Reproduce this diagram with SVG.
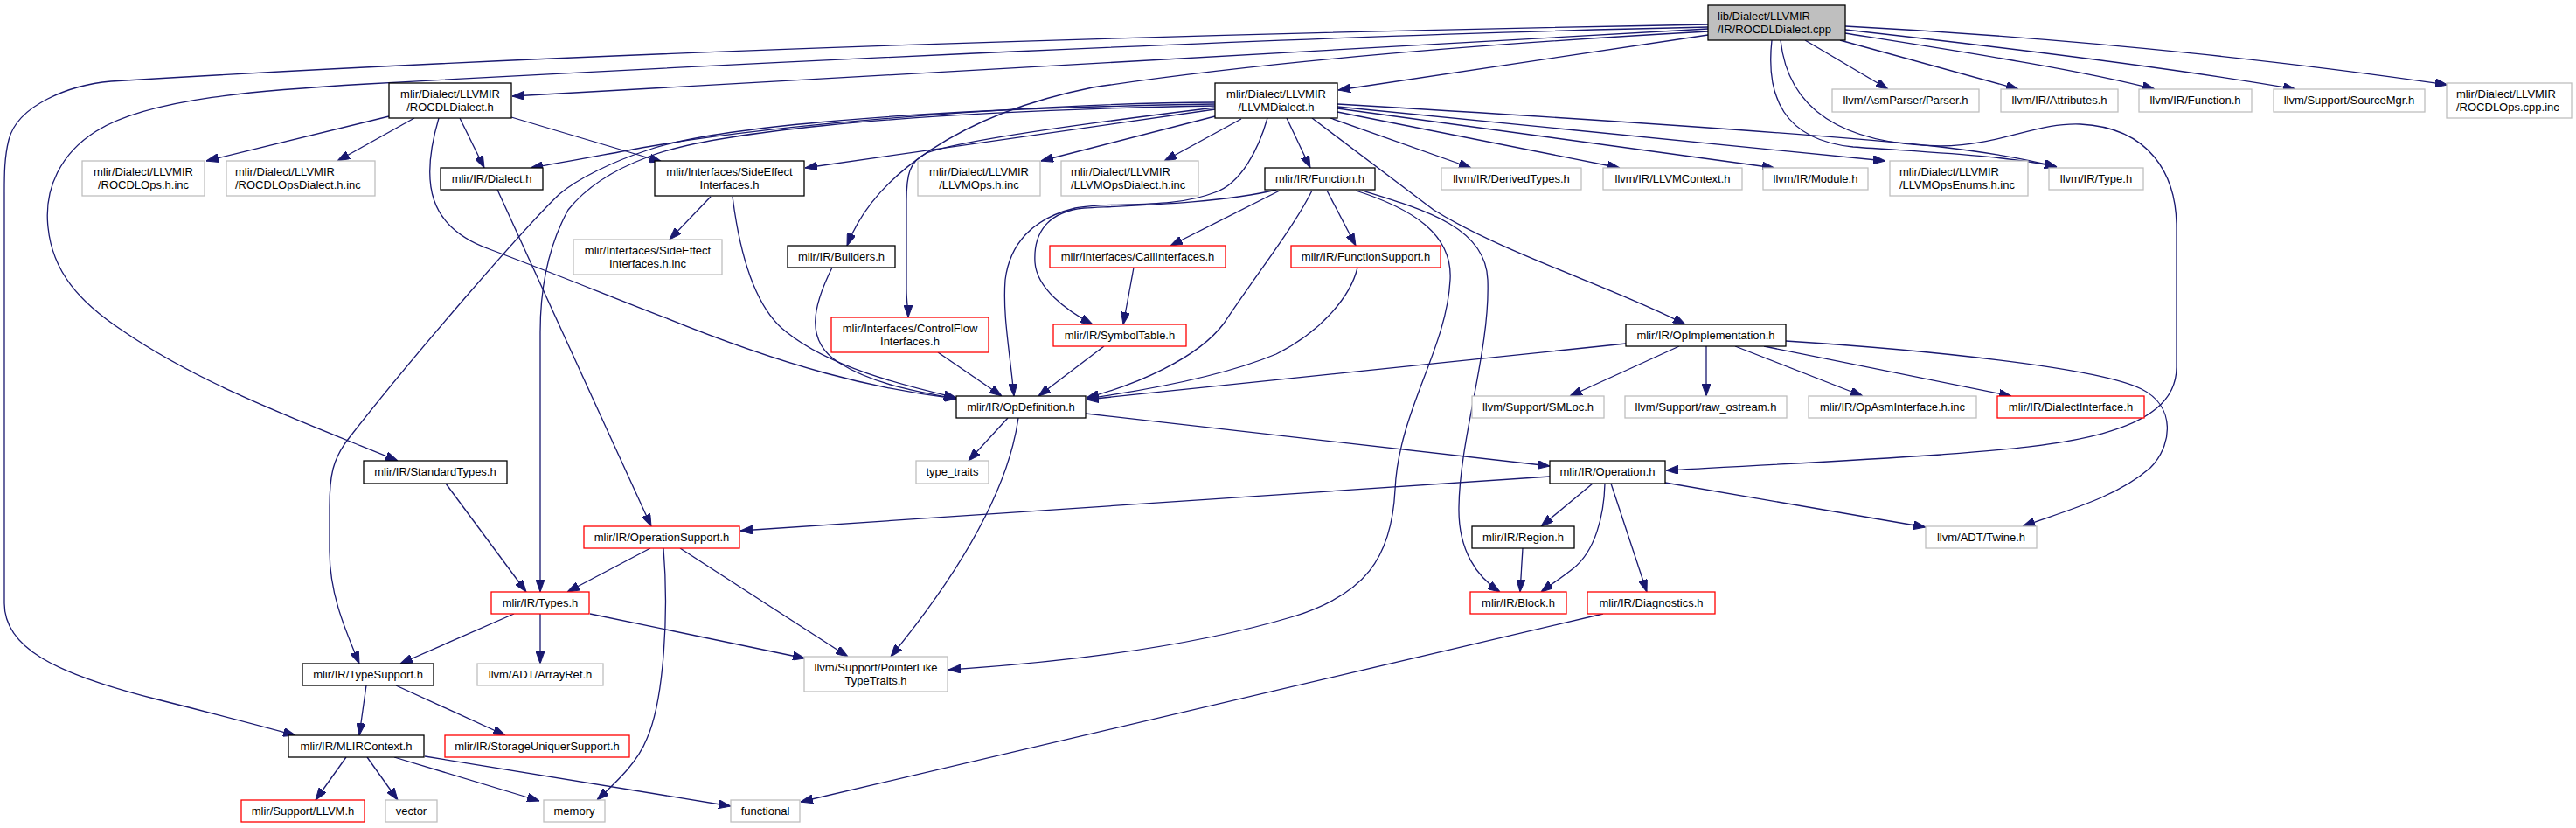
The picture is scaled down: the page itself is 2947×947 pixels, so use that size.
<svg xmlns="http://www.w3.org/2000/svg" width="2947" height="947" viewBox="0 0 2947 947">
<defs>
<style>
.n rect{fill:#fff;stroke-width:1.3}
.blk rect{stroke:#000}
.gry rect{stroke:#bfbfbf}
.red rect{stroke:#ff0000}
.root rect{fill:#bfbfbf;stroke:#000}
text{font-family:"Liberation Sans",Arial,Helvetica,sans-serif;font-size:13px;fill:#000;text-anchor:middle}
text.l{text-anchor:start}
.e path{fill:none;stroke:#191970;stroke-width:1.3;marker-end:url(#arr)}
</style>
<marker id="arr" viewBox="0 0 14 10" refX="14" refY="5" markerWidth="14" markerHeight="10" markerUnits="userSpaceOnUse" orient="auto">
<path d="M0,0 L14,5 L0,10 Z" fill="#191970" stroke="#191970" stroke-width="1"/>
</marker>
</defs>
<rect width="2947" height="947" fill="#fff"/>
<g id="edges" class="e">
<path d="M1954,33 L586,110"/>
<path d="M1954,40 L1531,103"/>
<path d="M1954,31 C1500,40 800,75 420,96 C300,103 170,112 110,150 C70,175 50,215 55,260 C60,310 90,345 140,378 C230,440 340,480 455,527"/>
<path d="M1954,28 C1400,38 700,58 127,93 C80,97 20,120 10,160 C5,180 5,200 5,220 L5,690 C5,740 60,770 180,800 C240,815 290,828 338,841"/>
<path d="M1954,36 C1700,50 1450,70 1250,100 C1100,130 1000,200 969,281"/>
<path d="M2065,46 L2160,102"/>
<path d="M2105,46 L2309,102"/>
<path d="M2111,38 C2250,60 2380,80 2465,102"/>
<path d="M2111,34 C2300,55 2500,80 2626,102"/>
<path d="M2111,30 C2400,45 2650,75 2800,97"/>
<path d="M2027,46 C2020,110 2040,160 2120,168 C2200,174 2300,178 2353,191"/>
<path d="M2037,46 C2045,120 2100,165 2220,167 C2290,166 2330,140 2380,142 C2460,146 2490,200 2490,260 L2490,420 C2490,500 2350,510 2220,520 C2100,528 1980,534 1906,538"/>
<path d="M445,133 L236,184"/>
<path d="M474,135 L386,184"/>
<path d="M526,135 L554,192"/>
<path d="M585,134 L757,185"/>
<path d="M502,135 C480,210 490,260 560,285 C640,315 700,340 760,363 C900,420 1000,445 1094,456"/>
<path d="M1390,117 C1200,118 900,140 740,168 C690,177 650,185 607,192"/>
<path d="M1390,119 C1000,125 800,150 740,172 C700,185 660,205 640,222 C600,260 470,410 400,500 C380,525 377,545 377,580 L377,630 C377,680 395,720 411,759"/>
<path d="M1390,121 C1000,128 800,155 740,180 C700,195 670,215 650,240 C628,280 618,330 618,380 L618,677"/>
<path d="M1390,125 L921,192"/>
<path d="M1390,123 C1250,140 1100,160 1060,175 C1040,185 1037,200 1037,230 L1037,330 C1037,345 1039,355 1039,363"/>
<path d="M1390,133 L1191,184"/>
<path d="M1420,136 L1332,184"/>
<path d="M1472,135 L1499,192"/>
<path d="M1450,135 C1440,170 1420,210 1390,220 C1340,240 1270,230 1230,238 C1180,250 1155,280 1150,320 C1147,360 1155,400 1160,453"/>
<path d="M1522,135 L1683,192"/>
<path d="M1530,128 L1853,192"/>
<path d="M1530,124 L2030,192"/>
<path d="M1530,122 L2157,184"/>
<path d="M1530,119 C1800,135 2100,155 2220,168 C2280,175 2320,182 2353,191"/>
<path d="M1501,135 C1560,180 1600,210 1640,240 C1720,290 1850,330 1928,371"/>
<path d="M569,217 L745,602"/>
<path d="M813,225 L766,274"/>
<path d="M838,225 C845,280 860,350 900,380 C950,420 1030,440 1094,455"/>
<path d="M952,306 C930,350 920,390 960,415 C1000,440 1050,448 1094,456"/>
<path d="M1464,218 L1339,281"/>
<path d="M1518,218 L1551,281"/>
<path d="M1501,218 C1480,260 1440,310 1400,370 C1370,410 1300,440 1243,455"/>
<path d="M1460,217 C1400,232 1300,235 1240,238 C1200,242 1182,265 1184,300 C1186,330 1220,355 1250,371"/>
<path d="M1558,218 C1630,240 1700,260 1702,320 C1705,400 1670,500 1669,580 C1668,630 1690,660 1716,677"/>
<path d="M1551,218 C1620,240 1662,270 1659,320 C1655,400 1600,470 1596,560 C1592,640 1560,680 1480,705 C1380,735 1250,755 1085,766"/>
<path d="M1297,306 L1285,371"/>
<path d="M1553,306 C1545,340 1510,380 1460,405 C1400,430 1320,445 1243,456"/>
<path d="M1073,403 L1146,453"/>
<path d="M1263,396 L1188,453"/>
<path d="M1860,393 L1243,457"/>
<path d="M1921,396 L1796,453"/>
<path d="M1952,396 L1952,453"/>
<path d="M1985,396 L2131,453"/>
<path d="M2018,396 L2301,453"/>
<path d="M2043,390 C2200,400 2400,420 2450,445 C2490,465 2485,510 2460,535 C2420,570 2360,585 2314,602"/>
<path d="M1153,478 L1108,527"/>
<path d="M1165,478 C1155,550 1110,640 1019,751"/>
<path d="M1242,473 L1773,533"/>
<path d="M510,553 L602,677"/>
<path d="M1773,545 L847,607"/>
<path d="M1822,553 L1763,602"/>
<path d="M1836,553 C1835,590 1825,630 1800,650 C1785,662 1775,668 1763,677"/>
<path d="M1843,553 L1884,677"/>
<path d="M1905,552 L2203,603"/>
<path d="M1742,627 L1739,677"/>
<path d="M744,627 L649,677"/>
<path d="M759,627 C765,700 760,800 740,845 C730,870 710,890 683,915"/>
<path d="M778,627 L970,751"/>
<path d="M588,702 L458,759"/>
<path d="M618,702 L618,759"/>
<path d="M675,702 L921,753"/>
<path d="M419,784 L411,841"/>
<path d="M453,784 L578,841"/>
<path d="M396,866 L361,915"/>
<path d="M420,866 L455,915"/>
<path d="M451,866 L617,916"/>
<path d="M486,865 L836,922"/>
<path d="M1834,702 L916,917"/>
</g>
<g id="nodes">
<g id="n-root" class="n root"><rect x="1954" y="6" width="157" height="40"/><text class="l" x="1965" y="23">lib/Dialect/LLVMIR</text><text class="l" x="1965" y="37.5">/IR/ROCDLDialect.cpp</text></g>
<g id="n-rocdl-h" class="n blk"><rect x="445" y="95" width="140" height="40"/><text x="515" y="112">mlir/Dialect/LLVMIR</text><text x="515" y="126.5">/ROCDLDialect.h</text></g>
<g id="n-llvmdialect-h" class="n blk"><rect x="1390" y="95" width="140" height="40"/><text x="1460" y="112">mlir/Dialect/LLVMIR</text><text x="1460" y="126.5">/LLVMDialect.h</text></g>
<g id="n-parser" class="n gry"><rect x="2096" y="102" width="168" height="26"/><text x="2180" y="119">llvm/AsmParser/Parser.h</text></g>
<g id="n-attributes" class="n gry"><rect x="2289" y="102" width="134" height="26"/><text x="2356" y="119">llvm/IR/Attributes.h</text></g>
<g id="n-llvm-function" class="n gry"><rect x="2447" y="102" width="129" height="26"/><text x="2511.5" y="119">llvm/IR/Function.h</text></g>
<g id="n-sourcemgr" class="n gry"><rect x="2601" y="102" width="173" height="26"/><text x="2687.5" y="119">llvm/Support/SourceMgr.h</text></g>
<g id="n-rocdlops-cpp" class="n gry"><rect x="2799" y="95" width="143" height="40"/><text class="l" x="2810" y="112">mlir/Dialect/LLVMIR</text><text class="l" x="2810" y="126.5">/ROCDLOps.cpp.inc</text></g>
<g id="n-rocdlops-inc" class="n gry"><rect x="94" y="184" width="140" height="40"/><text x="164" y="201">mlir/Dialect/LLVMIR</text><text x="164" y="215.5">/ROCDLOps.h.inc</text></g>
<g id="n-rocdlopsdialect-inc" class="n gry"><rect x="259" y="184" width="170" height="40"/><text class="l" x="269" y="201">mlir/Dialect/LLVMIR</text><text class="l" x="269" y="215.5">/ROCDLOpsDialect.h.inc</text></g>
<g id="n-dialect" class="n blk"><rect x="504" y="192" width="117" height="25"/><text x="562.5" y="208.5">mlir/IR/Dialect.h</text></g>
<g id="n-sideeffect" class="n blk"><rect x="749" y="184" width="171" height="40"/><text x="834.5" y="201">mlir/Interfaces/SideEffect</text><text x="834.5" y="215.5">Interfaces.h</text></g>
<g id="n-llvmops-inc" class="n gry"><rect x="1050" y="184" width="140" height="40"/><text x="1120" y="201">mlir/Dialect/LLVMIR</text><text x="1120" y="215.5">/LLVMOps.h.inc</text></g>
<g id="n-llvmopsdialect-inc" class="n gry"><rect x="1214" y="184" width="157" height="40"/><text class="l" x="1225" y="201">mlir/Dialect/LLVMIR</text><text class="l" x="1225" y="215.5">/LLVMOpsDialect.h.inc</text></g>
<g id="n-function" class="n blk"><rect x="1447" y="192" width="126" height="25"/><text x="1510" y="208.5">mlir/IR/Function.h</text></g>
<g id="n-derivedtypes" class="n gry"><rect x="1649" y="192" width="160" height="25"/><text x="1729" y="208.5">llvm/IR/DerivedTypes.h</text></g>
<g id="n-llvmcontext" class="n gry"><rect x="1834" y="192" width="159" height="25"/><text x="1913.5" y="208.5">llvm/IR/LLVMContext.h</text></g>
<g id="n-module" class="n gry"><rect x="2017" y="192" width="120" height="25"/><text x="2077" y="208.5">llvm/IR/Module.h</text></g>
<g id="n-llvmopsenums" class="n gry"><rect x="2162" y="184" width="158" height="40"/><text class="l" x="2173" y="201">mlir/Dialect/LLVMIR</text><text class="l" x="2173" y="215.5">/LLVMOpsEnums.h.inc</text></g>
<g id="n-type" class="n gry"><rect x="2344" y="192" width="108" height="25"/><text x="2398" y="208.5">llvm/IR/Type.h</text></g>
<g id="n-sideeffect-inc" class="n gry"><rect x="656" y="274" width="170" height="40"/><text x="741" y="291">mlir/Interfaces/SideEffect</text><text x="741" y="305.5">Interfaces.h.inc</text></g>
<g id="n-builders" class="n blk"><rect x="901" y="281" width="123" height="25"/><text x="962.5" y="297.5">mlir/IR/Builders.h</text></g>
<g id="n-callinterfaces" class="n red"><rect x="1201" y="281" width="201" height="25"/><text x="1301.5" y="297.5">mlir/Interfaces/CallInterfaces.h</text></g>
<g id="n-functionsupport" class="n red"><rect x="1477" y="281" width="171" height="25"/><text x="1562.5" y="297.5">mlir/IR/FunctionSupport.h</text></g>
<g id="n-controlflow" class="n red"><rect x="951" y="363" width="180" height="40"/><text x="1041" y="380">mlir/Interfaces/ControlFlow</text><text x="1041" y="394.5">Interfaces.h</text></g>
<g id="n-symboltable" class="n red"><rect x="1205" y="371" width="152" height="25"/><text x="1281" y="387.5">mlir/IR/SymbolTable.h</text></g>
<g id="n-opimplementation" class="n blk"><rect x="1860" y="371" width="183" height="25"/><text x="1951.5" y="387.5">mlir/IR/OpImplementation.h</text></g>
<g id="n-opdefinition" class="n blk"><rect x="1094" y="453" width="148" height="25"/><text x="1168" y="469.5">mlir/IR/OpDefinition.h</text></g>
<g id="n-smloc" class="n gry"><rect x="1684" y="453" width="151" height="25"/><text x="1759.5" y="469.5">llvm/Support/SMLoc.h</text></g>
<g id="n-rawostream" class="n gry"><rect x="1859" y="453" width="185" height="25"/><text x="1951.5" y="469.5">llvm/Support/raw_ostream.h</text></g>
<g id="n-opasminterface" class="n gry"><rect x="2069" y="453" width="192" height="25"/><text x="2165" y="469.5">mlir/IR/OpAsmInterface.h.inc</text></g>
<g id="n-dialectinterface" class="n red"><rect x="2285" y="453" width="168" height="25"/><text x="2369" y="469.5">mlir/IR/DialectInterface.h</text></g>
<g id="n-standardtypes" class="n blk"><rect x="416" y="527" width="164" height="26"/><text x="498" y="544">mlir/IR/StandardTypes.h</text></g>
<g id="n-typetraits" class="n gry"><rect x="1048" y="527" width="83" height="26"/><text x="1089.5" y="544">type_traits</text></g>
<g id="n-operation" class="n blk"><rect x="1773" y="527" width="132" height="26"/><text x="1839" y="544">mlir/IR/Operation.h</text></g>
<g id="n-operationsupport" class="n red"><rect x="668" y="602" width="178" height="25"/><text x="757" y="618.5">mlir/IR/OperationSupport.h</text></g>
<g id="n-region" class="n blk"><rect x="1684" y="602" width="117" height="25"/><text x="1742.5" y="618.5">mlir/IR/Region.h</text></g>
<g id="n-twine" class="n gry"><rect x="2203" y="602" width="127" height="25"/><text x="2266.5" y="618.5">llvm/ADT/Twine.h</text></g>
<g id="n-types" class="n red"><rect x="562" y="677" width="112" height="25"/><text x="618" y="693.5">mlir/IR/Types.h</text></g>
<g id="n-block" class="n red"><rect x="1682" y="677" width="110" height="25"/><text x="1737" y="693.5">mlir/IR/Block.h</text></g>
<g id="n-diagnostics" class="n red"><rect x="1816" y="677" width="146" height="25"/><text x="1889" y="693.5">mlir/IR/Diagnostics.h</text></g>
<g id="n-typesupport" class="n blk"><rect x="346" y="759" width="150" height="25"/><text x="421" y="775.5">mlir/IR/TypeSupport.h</text></g>
<g id="n-arrayref" class="n gry"><rect x="546" y="759" width="144" height="25"/><text x="618" y="775.5">llvm/ADT/ArrayRef.h</text></g>
<g id="n-pointerlike" class="n gry"><rect x="920" y="751" width="164" height="40"/><text x="1002" y="768">llvm/Support/PointerLike</text><text x="1002" y="782.5">TypeTraits.h</text></g>
<g id="n-mlircontext" class="n blk"><rect x="330" y="841" width="155" height="25"/><text x="407.5" y="857.5">mlir/IR/MLIRContext.h</text></g>
<g id="n-storageuniquer" class="n red"><rect x="509" y="841" width="211" height="25"/><text x="614.5" y="857.5">mlir/IR/StorageUniquerSupport.h</text></g>
<g id="n-llvm" class="n red"><rect x="276" y="915" width="141" height="25"/><text x="346.5" y="931.5">mlir/Support/LLVM.h</text></g>
<g id="n-vector" class="n gry"><rect x="441" y="915" width="59" height="25"/><text x="470.5" y="931.5">vector</text></g>
<g id="n-memory" class="n gry"><rect x="622" y="915" width="70" height="25"/><text x="657" y="931.5">memory</text></g>
<g id="n-functional" class="n gry"><rect x="836" y="915" width="79" height="25"/><text x="875.5" y="931.5">functional</text></g>
</g>
</svg>
